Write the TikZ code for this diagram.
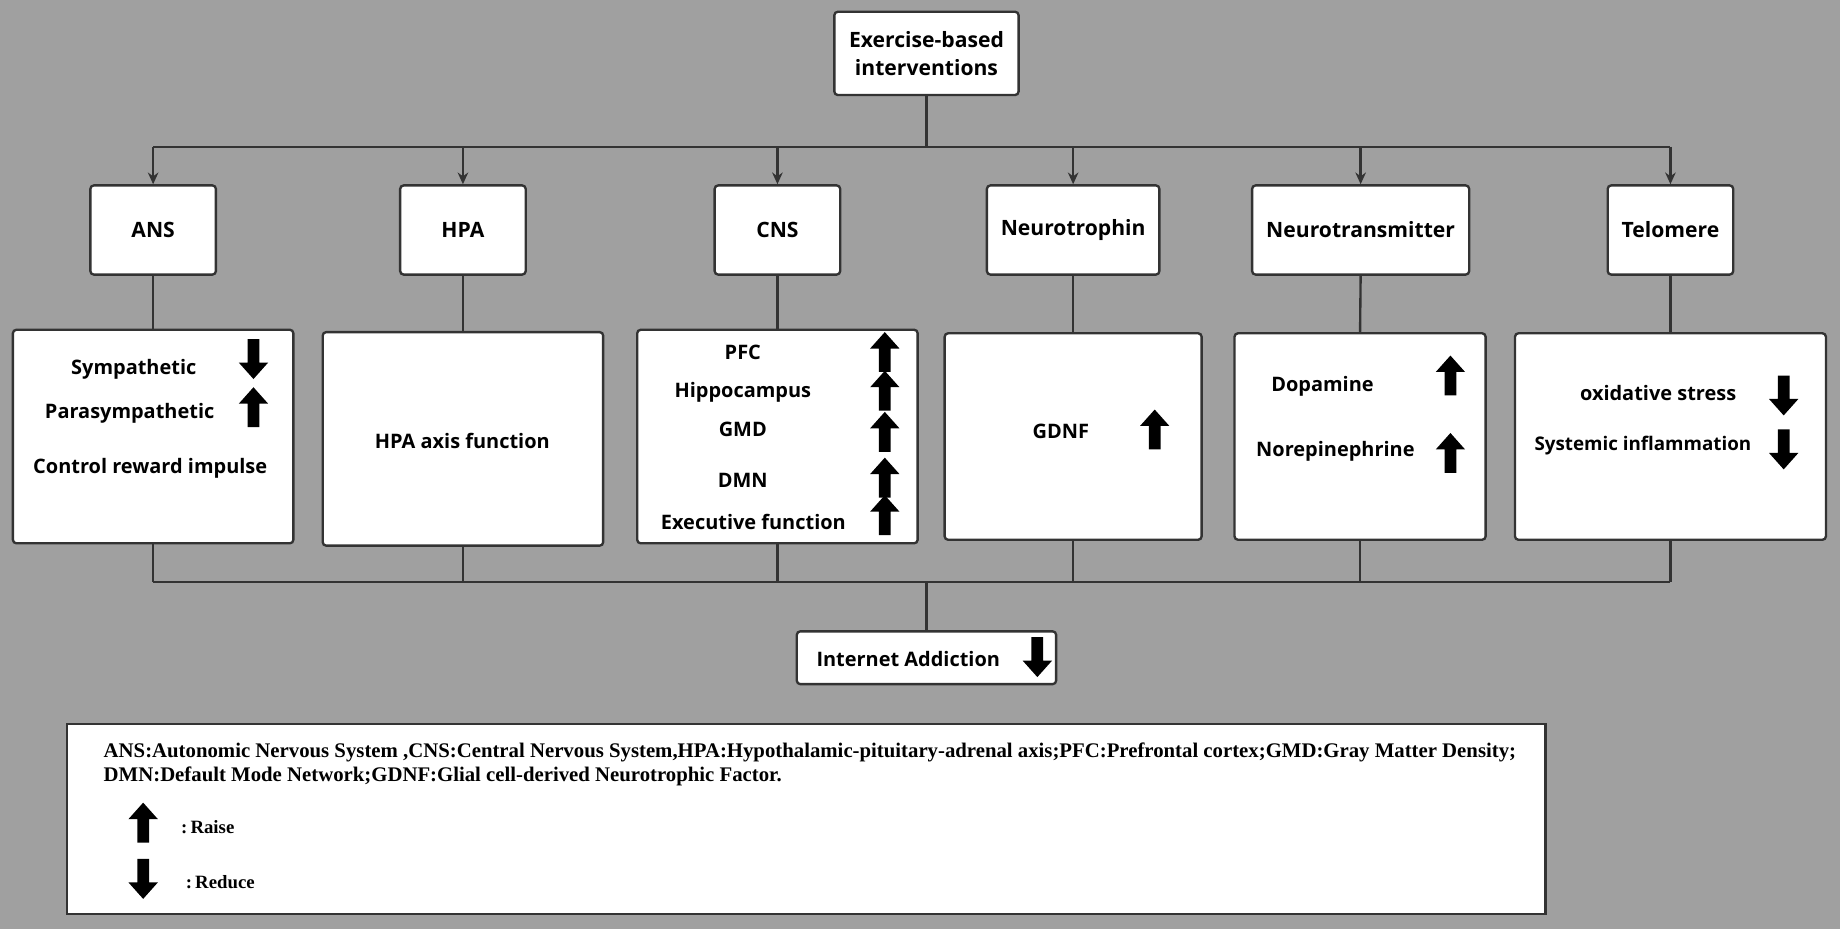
\documentclass[tikz,border=0pt]{standalone}
\usepackage{fontspec}
\setmainfont{Open Sans}
\newfontfamily\legendfont{Liberation Serif}
\usepackage{tikz}
\usetikzlibrary{arrows.meta, positioning, calc}
\definecolor{bggray}{RGB}{160,160,160}
\definecolor{linegray}{RGB}{51,51,51}

\begin{document}
\begin{tikzpicture}[x=0.5pt, y=-0.5pt, >={Stealth[length=5pt,width=4.5pt]},
        box/.style={draw=linegray, fill=white, line width=1pt, rounded corners=1.5pt, inner sep=0pt,
                align=center, font=\bfseries\fontsize{9}{12}\selectfont},
        txt/.style={inner sep=0pt, font=\bfseries\fontsize{8.5}{10}\selectfont},
        legtxt/.style={inner sep=0pt, anchor=west, font=\legendfont\bfseries\fontsize{8.85}{10}\selectfont},
        link/.style={draw=linegray, line width=1pt},
        uparr/.pic={\fill (-5,17) -- (-5,-3) -- (-12.5,-3) -- (0,-17) -- (12.5,-3) -- (5,-3) -- (5,17) -- cycle;},
        downarr/.pic={\fill (-5,-17) -- (-5,3) -- (-12.5,3) -- (0,17) -- (12.5,3) -- (5,3) -- (5,-17) -- cycle;}]
        \fill[bggray] (0,0) rectangle (1568,792);
        \useasboundingbox (0,0) rectangle (1568,792);

        \node[box, minimum width=78.5pt, minimum height=35.5pt] (exer) at (789.5,45.5) {Exercise-based\\interventions};
        \foreach \name/\x/\w/\label in {ans/130.5/53.5/ANS, hpa/394.5/53.5/HPA, cns/662.5/53.5/CNS,
                ntp/914.5/73.5/Neurotrophin, ntm/1159.5/92.5/Neurotransmitter, tel/1423.5/53.5/Telomere}
          \node[box, minimum width=\w pt, minimum height=38pt] (\name) at (\x,196) {\label};
        \foreach \name/\x/\y/\w/\h in {ansd/130.5/372/119.5/91, hpad/394.5/374/119.5/91, cnsd/662.5/372/119.5/91,
                ntpd/914.5/372/109.5/88, ntmd/1159/372/107/88, teld/1423.5/372/132.5/88}
          \node[box, minimum width=\w pt, minimum height=\h pt] (\name) at (\x,\y) {};
        \node[box, minimum width=110.5pt, minimum height=22.5pt] (addict) at (789.5,560.5) {};
        \node[draw=linegray, fill=white, line width=1pt, minimum width=630pt, minimum height=81pt] (legend) at (687,698) {};

        \coordinate (topbus) at (789.5,125);
        \coordinate (lowbus) at (789.5,496);
        \draw[link] (exer.south) -- (topbus);
        \draw[link] (ans |- topbus) -- (tel |- topbus);
        \draw[link] (ansd |- lowbus) -- (teld |- lowbus);
        \draw[link] (lowbus) -- (addict.north);
        \foreach \a/\b in {ans/ansd, hpa/hpad, cns/cnsd, ntp/ntpd, ntm/ntmd, tel/teld} {
          \draw[link, ->] (\a |- topbus) -- (\a.north);
          \draw[link] (\a.south) -- (\b.north);
          \draw[link] (\b.south) -- (\b |- lowbus);
        }

        \node[txt] (symp) at (114,315) {Sympathetic};
        \node[txt] (para) at (110.5,352) {Parasympathetic};
        \node[txt] (reward) at (128,399) {Control reward impulse};
        \pic at (216,306) {downarr};
        \pic at (216,347) {uparr};

        \node[txt] (hpaaxis) at (394,376) {HPA axis function};

        \node[txt] (pfc) at (633,300) {PFC};
        \node[txt] (hippo) at (633,334) {Hippocampus};
        \node[txt] (gmd) at (633,366) {GMD};
        \node[txt] (dmn) at (633,409) {DMN};
        \node[txt] (exec) at (642,445) {Executive function};
        \foreach \y in {300,333,368,407,439}
          \pic at (754,\y) {uparr};

        \node[txt] (gdnf) at (904,368) {GDNF};
        \pic at (984,366) {uparr};

        \node[txt] (dopa) at (1127,329) {Dopamine};
        \node[txt] (norepi) at (1138,385) {Norepinephrine};
        \pic at (1236,320) {uparr};
        \pic at (1236,386) {uparr};

        \node[txt] (oxid) at (1413,335) {oxidative stress};
        \node[txt, font=\bfseries\fontsize{8}{10}\selectfont] (inflam) at (1400,380) {Systemic inflammation};
        \pic at (1520,337) {downarr};
        \pic at (1520,383) {downarr};

        \node[txt] (addtxt) at (774,562) {Internet Addiction};
        \pic at (884,560) {downarr};

        \node[legtxt] (abbr1) at (88,641) {ANS:Autonomic Nervous System ,CNS:Central Nervous System,HPA:Hypothalamic-pituitary-adrenal axis;PFC:Prefrontal cortex;GMD:Gray Matter Density;};
        \node[legtxt] (abbr2) at (88,662) {DMN:Default Mode Network;GDNF:Glial cell-derived Neurotrophic Factor.};
        \pic at (122,701) {uparr};
        \pic at (122,749) {downarr};
        \node[legtxt, font=\legendfont\bfseries\fontsize{8}{10}\selectfont] (raise) at (154,705) {:\,Raise};
        \node[legtxt, font=\legendfont\bfseries\fontsize{8}{10}\selectfont] (reduce) at (158,752) {:\,Reduce};
\end{tikzpicture}
\end{document}
